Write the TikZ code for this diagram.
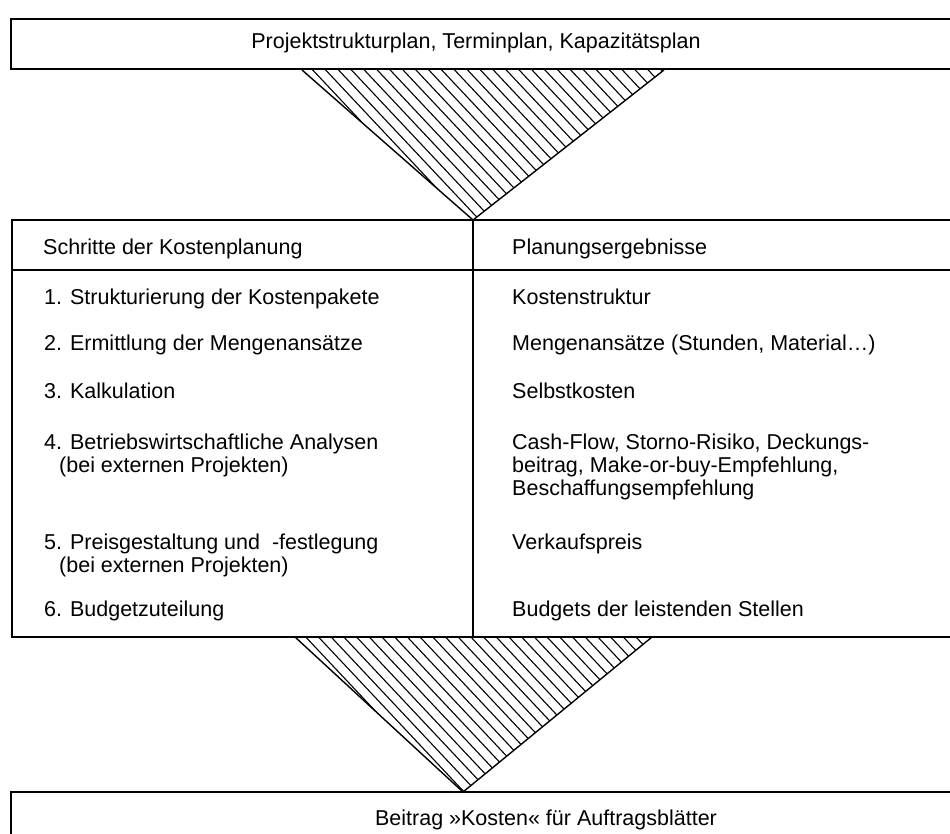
\documentclass[tikz,border=0pt]{standalone}
\usepackage{fontspec}
\setmainfont{Liberation Sans}
\begin{document}
\begin{tikzpicture}[x=1pt,y=-1pt,
  frame/.style={line width=1.7pt},
  edge/.style={line width=1.4pt, line join=round},
  hatchline/.style={line width=1.1pt},
  txt/.style={anchor=base west, inner sep=0pt, font=\fontsize{21.5}{23}\selectfont},
  ctxt/.style={anchor=base, inner sep=0pt, font=\fontsize{21.5}{23}\selectfont},
]
\useasboundingbox (0,0) rectangle (950,834);

% boxes (their right edges run off the page)
\draw[frame] (11,19) rectangle (970,69);
\draw[frame] (12,220) rectangle (970,637);
\draw[frame] (12,270) -- (970,270);
\draw[line width=1.4pt] (473,220) -- (473,637);
\draw[frame] (11,792) rectangle (970,860);

% funnel corners
\coordinate (tA) at (302,70);
\coordinate (tB) at (664,70);
\coordinate (tC) at (473,220);
\coordinate (bA) at (295,637);
\coordinate (bB) at (652,637);
\coordinate (bC) at (463,792);

% hatched funnels
\begin{scope}
  \clip (tA) -- (tB) -- (tC) -- cycle;
  \foreach \k in {0,...,28}
    \draw[hatchline] (309+\k*12.9,66) -- ++(0.94*170,170);
\end{scope}
\draw[edge] (tA) -- (tC) -- (tB);

\begin{scope}
  \clip (bA) -- (bB) -- (bC) -- cycle;
  \foreach \k in {0,...,28}
    \draw[hatchline] (302+\k*12.7,633) -- ++(0.94*175,175);
\end{scope}
\draw[edge] (bA) -- (bC) -- (bB);

% texts
\node[ctxt] (top) at (476,49) {Projektstrukturplan, Terminplan, Kapazitätsplan};

\node[txt] (hL) at (43,255) {Schritte der Kostenplanung};
\node[txt] (hR) at (512,255) {Planungsergebnisse};

\node[txt] (s1) at (44,304) {1. Strukturierung der Kostenpakete};
\node[txt] (s2) at (44,350) {2. Ermittlung der Mengenansätze};
\node[txt] (s3) at (44,398) {3. Kalkulation};
\node[txt] (s4) at (44,449) {4. Betriebswirtschaftliche Analysen};
\node[txt] (s4b) at (59,472) {(bei externen Projekten)};
\node[txt] (s5) at (44,549) {5. Preisgestaltung und \ -festlegung};
\node[txt] (s5b) at (59,572) {(bei externen Projekten)};
\node[txt] (s6) at (44,616) {6. Budgetzuteilung};

\node[txt] (r1) at (512,304) {Kostenstruktur};
\node[txt] (r2) at (512,350) {Mengenansätze (Stunden, Material\dots)};
\node[txt] (r3) at (512,398) {Selbstkosten};
\node[txt] (r4) at (512,449) {Cash-Flow, Storno-Risiko, Deckungs-};
\node[txt] (r4b) at (512,472) {beitrag, Make-or-buy-Empfehlung,};
\node[txt] (r4c) at (512,495) {Beschaffungsempfehlung};
\node[txt] (r5) at (512,549) {Verkaufspreis};
\node[txt] (r6) at (512,616) {Budgets der leistenden Stellen};

\node[ctxt] (bot) at (546,825) {Beitrag »Kosten« für Auftragsblätter};
\end{tikzpicture}
\end{document}
